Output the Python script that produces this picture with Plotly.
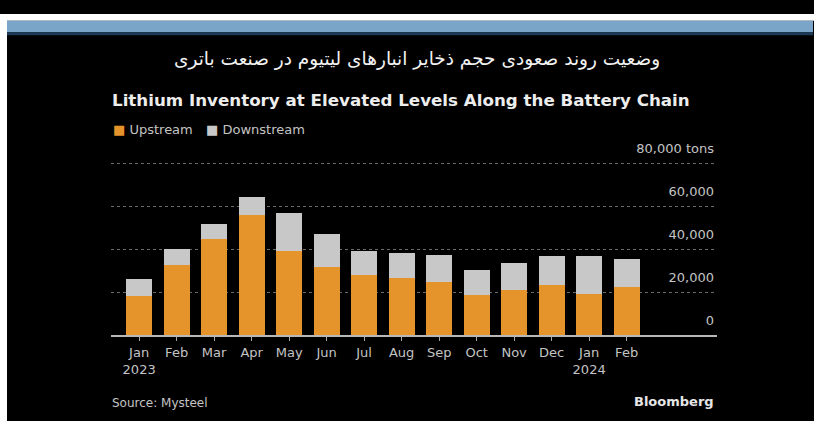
import plotly.graph_objects as go

# Monthly lithium inventory (tons), Jan 2023 - Feb 2024
months = ["2023-01", "2023-02", "2023-03", "2023-04", "2023-05", "2023-06", "2023-07",
          "2023-08", "2023-09", "2023-10", "2023-11", "2023-12", "2024-01", "2024-02"]
month_labels = ["Jan<br>2023", "Feb", "Mar", "Apr", "May", "Jun", "Jul",
                "Aug", "Sep", "Oct", "Nov", "Dec", "Jan<br>2024", "Feb"]
upstream = [18300, 32800, 44600, 56000, 39200, 32000, 28200,
            26800, 24900, 18700, 21200, 23300, 19400, 22300]
total = [26100, 40300, 51650, 64500, 56900, 47000, 39400,
         38200, 37400, 30500, 33500, 37000, 36800, 35300]
downstream = [t - u for t, u in zip(total, upstream)]

series_names = ["Upstream", "Downstream"]
y_ticks = [0, 20000, 40000, 60000, 80000]
y_tick_labels = ["0", "20,000", "40,000", "60,000", "80,000 tons"]

ORANGE = "#E5932B"
GREY = "#C8C8C8"
TEXT = "#C4C4C4"
FONT = "DejaVu Sans"

W, H = 814, 421


def px(x):
    return x / W


def py(y):
    return 1 - y / H


fig = go.Figure()
fig.add_trace(go.Bar(x=months, y=upstream, name=series_names[0], showlegend=False,
                     marker=dict(color=ORANGE, line=dict(width=0))))
fig.add_trace(go.Bar(x=months, y=downstream, name=series_names[1], showlegend=False,
                     marker=dict(color=GREY, line=dict(width=0))))

fig.update_layout(
    width=W, height=H,
    margin=dict(l=0, r=0, t=0, b=0),
    paper_bgcolor="#000000",
    plot_bgcolor="#000000",
    barmode="stack",
    bargap=0.31,
    font=dict(family=FONT, color=TEXT, size=13),
    xaxis=dict(
        domain=[px(111), px(717)],
        type="category",
        range=[-0.75, 15.41],
        tickmode="array",
        tickvals=months,
        ticktext=month_labels,
        ticks="outside",
        ticklen=4,
        tickwidth=1,
        tickcolor="#A8A8A8",
        showline=True,
        linecolor="#B8B8B8",
        linewidth=1.5,
        showgrid=False,
        tickfont=dict(family=FONT, size=13, color=TEXT),
        fixedrange=True,
    ),
    yaxis=dict(
        domain=[py(332.5), py(145.4)],
        range=[0, 84000],
        side="right",
        tickmode="array",
        tickvals=y_ticks,
        ticktext=y_tick_labels,
        ticklabelposition="inside top",
        ticklabeloverflow="allow",
        ticklabelshift=-6,
        ticks="",
        showline=False,
        zeroline=False,
        showgrid=True,
        gridcolor="#6A6A6A",
        griddash="dot",
        gridwidth=1,
        tickfont=dict(family=FONT, size=13, color=TEXT),
        fixedrange=True,
    ),
)

# Page frame: white margin, blue header band with a dark rule beneath it
fig.add_shape(type="rect", xref="paper", yref="paper", x0=0, x1=px(7), y0=0, y1=1,
              fillcolor="#FFFFFF", line=dict(width=0), layer="above")
fig.add_shape(type="rect", xref="paper", yref="paper", x0=0, x1=1, y0=py(7), y1=1,
              fillcolor="#FFFFFF", line=dict(width=0), layer="above")
fig.add_shape(type="rect", xref="paper", yref="paper", x0=px(7), x1=px(813), y0=py(19), y1=py(7),
              fillcolor="#7AA5C8", line=dict(width=0), layer="above")
fig.add_shape(type="rect", xref="paper", yref="paper", x0=px(7), x1=px(813), y0=py(22), y1=py(19),
              fillcolor="#1C3B58", line=dict(width=0), layer="above")

fig.add_annotation(text="وضعیت روند صعودی حجم ذخایر انبارهای لیتیوم در صنعت باتری",
                   xref="paper", yref="paper", x=px(416.5), y=py(47),
                   xanchor="center", yanchor="middle", showarrow=False,
                   font=dict(family=FONT, size=18.5, color="#F2F2F2"))
fig.add_annotation(text="<b>Lithium Inventory at Elevated Levels Along the Battery Chain</b>",
                   xref="paper", yref="paper", x=px(110), y=py(89),
                   xanchor="left", yanchor="middle", showarrow=False,
                   font=dict(family=FONT, size=16.7, color="#EDEDED"))

# Compact legend: coloured square glyph followed by the series name
for name, color, x_left in zip(series_names, [ORANGE, GREY], [111, 204]):
    fig.add_annotation(text=f'<span style="color:{color}">■</span> {name}',
                       xref="paper", yref="paper", x=px(x_left), y=py(119.5),
                       xanchor="left", yanchor="middle", showarrow=False,
                       font=dict(family=FONT, size=13, color=TEXT))

fig.add_annotation(text="Source: Mysteel",
                   xref="paper", yref="paper", x=px(110), y=py(402),
                   xanchor="left", yanchor="middle", showarrow=False,
                   font=dict(family=FONT, size=12, color=TEXT))
fig.add_annotation(text="<b>Bloomberg</b>",
                   xref="paper", yref="paper", x=px(716), y=py(401),
                   xanchor="right", yanchor="middle", showarrow=False,
                   font=dict(family=FONT, size=13, color="#E6E6E6"))

fig.write_html("out.html")
